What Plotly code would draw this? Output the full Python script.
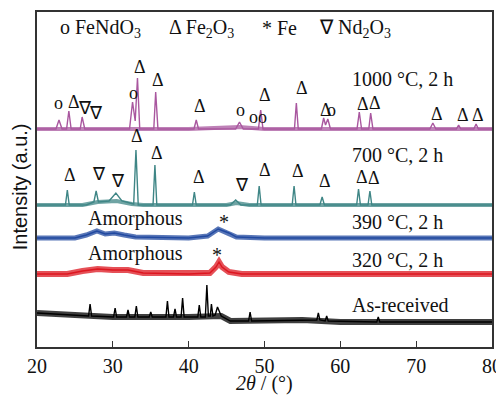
import plotly.graph_objects as go

# ---------------- data (2theta in degrees, intensity in arbitrary units) ----------------
# 1000 C, 2 h
X_1000 = [20, 22.5, 22.9, 23.3, 23.9, 24.2, 24.5, 25.7, 25.95, 26.3, 32.2, 32.6, 32.95, 33.25, 33.55,
          35.4, 35.65, 35.95, 40.7, 41.0, 41.3, 46.2, 46.7, 47.2, 49.2, 49.5, 49.8, 53.95, 54.2, 54.45,
          57.5, 57.8, 58.05, 58.35, 58.7, 62.2, 62.5, 62.8, 63.75, 64.0, 64.3, 71.8, 72.2, 72.6,
          75.3, 75.6, 75.9, 77.6, 77.9, 78.2, 80]
I_1000 = [0, 0, 9, 0, 0, 18, 0, 0, 12, 0, 0, 27, 8, 51, 0,
          0, 37, 0, 0, 9, 0, 0, 7, 0, 0, 19, 0, 0, 26, 0,
          0, 11, 4, 10, 0, 0, 17, 0, 0, 16, 0, 0, 6, 0,
          0, 4, 0, 0, 5, 0, 0]
BX_1000 = [20, 30, 40, 46.7, 50, 60, 70, 80]
BI_1000 = [0, 0, 0, 2, 0, 0, 0, 0]

# 700 C, 2 h
X_700 = [20, 23.75, 24.0, 24.25, 26.5, 27.5, 27.8, 28.1, 29.5, 30.4, 31.2, 32.75, 33.05, 33.35,
         35.3, 35.55, 35.8, 40.5, 40.75, 41.0, 45.5, 46.2, 46.9, 49.05, 49.3, 49.55, 53.65, 53.9, 54.15,
         57.3, 57.6, 57.9, 62.15, 62.4, 62.65, 63.65, 63.9, 64.15, 80]
I_700 = [0, 0, 15, 0, 0, 3, 14, 3, 4, 12, 4, 1, 55, 0,
         0, 40, 0, 0, 13, 0, 0, 5, 0, 0, 19, 0, 0, 19, 0,
         0, 8, 0, 0, 16, 0, 0, 14, 0, 0]
BX_700 = [20, 26, 28, 30.5, 32.5, 34, 45, 46.3, 48, 80]
BI_700 = [0, 0, 3, 4, 1, 0, 0, 2, 0, 0]

# 390 C, 2 h
X_390 = [20, 25, 26.5, 27.9, 29, 30.2, 31.5, 33, 40, 42.5, 43.9, 45.3, 46.3, 50, 80]
I_390 = [0, 0, 3, 7, 4, 5, 3, 1, 0, 2, 9, 5, 1, 0, 0]

# 320 C, 2 h
X_320 = [20, 24, 26, 28, 30, 32, 34, 40, 42.8, 43.6, 44.0, 44.4, 45.3, 47, 80]
I_320 = [0, 0, 3, 5, 4, 4, 1, 0, 1, 7, 12, 7, 2, 0, 0]

# As-received
X_AR = [20, 26.8, 27.0, 27.2, 30.1, 30.3, 30.5, 31.8, 32.0, 32.2, 32.9, 33.1, 33.3, 34.8, 35.0, 35.2,
        37.0, 37.2, 37.4, 38.0, 38.2, 38.4, 39.0, 39.2, 39.4, 41.2, 41.4, 41.6, 42.2, 42.4, 42.6,
        42.85, 43.0, 43.2, 43.5, 43.8, 44.3, 45.5, 47.9, 48.1, 48.3, 56.9, 57.1, 57.3, 58.0, 58.2, 58.4,
        64.8, 65.0, 65.2, 80]
I_AR = [9, 6, 18, 6, 5, 14, 5, 5, 12, 5, 5, 16, 5, 5, 10, 5,
        5, 21, 5, 5, 13, 5, 5, 24, 5, 5, 17, 5, 5, 37, 6,
        6, 18, 6, 7, 15, 6, 1, 1, 10, 1, 2, 9, 2, 1, 6, 1,
        0, 5, 0, 0]
BX_AR = [20, 24, 26, 30, 40, 43, 44.3, 45.5, 50, 55, 60, 80]
BI_AR = [9, 8, 6, 5, 5, 6, 6, 1, 1, 2, 0, 0]

SERIES = ["1000 °C, 2 h", "700 °C, 2 h", "390 °C, 2 h", "320 °C, 2 h", "As-received"]
OFFSETS = [218, 142, 109, 73, 25]

# phase markers: (2theta, height, symbol)
MARK_X = [22.9, 24.9, 26.3, 27.8, 32.7, 33.6, 35.9, 41.5, 46.9, 48.5, 49.8, 50.0, 54.9, 58.1, 58.9,
          63.0, 64.6, 72.7, 76.2, 78.2,
          24.3, 28.2, 30.7, 33.2, 35.8, 41.4, 47.0, 50.0, 54.4, 58.0, 62.8, 64.5]
MARK_Y = [244, 245, 239, 234, 254, 280, 267, 241, 237, 230, 230, 252, 259, 237, 237,
          243, 244, 233, 232, 232,
          172, 173, 166, 211, 194, 170, 162, 177, 176, 166, 170, 169]
MARK_T = ["o", "Δ", "∇", "∇", "o", "Δ", "Δ", "Δ", "o", "o", "o", "Δ", "Δ", "Δ", "o",
          "Δ", "Δ", "Δ", "Δ", "Δ",
          "Δ", "∇", "∇", "Δ", "Δ", "Δ", "∇", "Δ", "Δ", "Δ", "Δ", "Δ"]

LEGEND_X = [22.77, 37.14, 49.41, 56.89]
LEGEND_T = ["o FeNdO<sub>3</sub>", "Δ Fe<sub>2</sub>O<sub>3</sub>", "* Fe", "∇ Nd<sub>2</sub>O<sub>3</sub>"]

# ---------------- styles ----------------
COLORS = ["#A9579F", "#3F8686", "#2149A0", "#DD1620", "#000000"]
BAND_W = [4, 4, 5, 6, 6]
SERIF = "Liberation Serif"
TXT = "#111"

fig = go.Figure()
lines = [(X_1000, I_1000, BX_1000, BI_1000),
         (X_700, I_700, BX_700, BI_700),
         (X_390, I_390, X_390, I_390),
         (X_320, I_320, X_320, I_320),
         (X_AR, I_AR, BX_AR, BI_AR)]
for (x, y, bx, by), off, col, bw in zip(lines, OFFSETS, COLORS, BAND_W):
    assert len(x) == len(y) and len(bx) == len(by)
    fig.add_trace(go.Scatter(x=bx, y=[v + off for v in by], mode="lines",
                             line=dict(color=col, width=bw), opacity=0.75,
                             hoverinfo="skip", showlegend=False))
    fig.add_trace(go.Scatter(x=x, y=[v + off for v in y], mode="lines",
                             line=dict(color=col, width=1.4), showlegend=False))

ann = []
label_y = [268, 192, 125, 87, 42]
for name, ly in zip(SERIES, label_y):
    ann.append(dict(x=61.3, y=ly, text=name, xanchor="left", yanchor="middle",
                    showarrow=False, font=dict(family=SERIF, size=20, color=TXT)))
for ay in (129, 94):
    ann.append(dict(x=26.4, y=ay, text="Amorphous", xanchor="left", yanchor="middle",
                    showarrow=False, font=dict(family=SERIF, size=20, color=TXT)))
for sx, sy in ((44.6, 125), (43.8, 92)):
    ann.append(dict(x=sx, y=sy, text="*", xanchor="center", yanchor="middle",
                    showarrow=False, font=dict(family=SERIF, size=20, color=TXT)))
for mx, my, mt in zip(MARK_X, MARK_Y, MARK_T):
    ann.append(dict(x=mx, y=my, text=mt, xanchor="center", yanchor="middle",
                    showarrow=False, font=dict(family=SERIF, size=18, color=TXT)))
for lx, lt in zip(LEGEND_X, LEGEND_T):
    ann.append(dict(x=lx, y=319, text=lt, xanchor="left", yanchor="middle",
                    showarrow=False, font=dict(family=SERIF, size=20, color=TXT)))
# axis titles
ann.append(dict(xref="paper", yref="paper", x=0.5, y=-0.108, text="<i>2θ</i> / (°)",
                xanchor="center", yanchor="middle", showarrow=False,
                font=dict(family=SERIF, size=20, color=TXT)))
ann.append(dict(xref="paper", yref="paper", x=-0.038, y=0.479, text="Intensity (a.u.)",
                textangle=-90, xanchor="center", yanchor="middle", showarrow=False,
                font=dict(family="Liberation Sans", size=20, color=TXT)))

# the page body adds an 8 px margin, so the figure is sized/offset to compensate
fig.update_layout(
    width=496, height=387,
    margin=dict(l=29, r=12, t=4, b=48),
    paper_bgcolor="white", plot_bgcolor="white",
    annotations=ann,
    xaxis=dict(range=[20, 80], tickvals=[20, 30, 40, 50, 60, 70, 80],
               ticks="inside", ticklen=6, tickwidth=1.2, tickcolor="#333",
               showline=True, linecolor="#333", linewidth=1.5, mirror=True,
               showgrid=False, zeroline=False, automargin=False,
               tickfont=dict(family=SERIF, size=20, color=TXT)),
    yaxis=dict(range=[0, 335], showticklabels=False, ticks="",
               showline=True, linecolor="#333", linewidth=1.5, mirror=True,
               showgrid=False, zeroline=False, automargin=False),
)

fig.write_html("out.html")
